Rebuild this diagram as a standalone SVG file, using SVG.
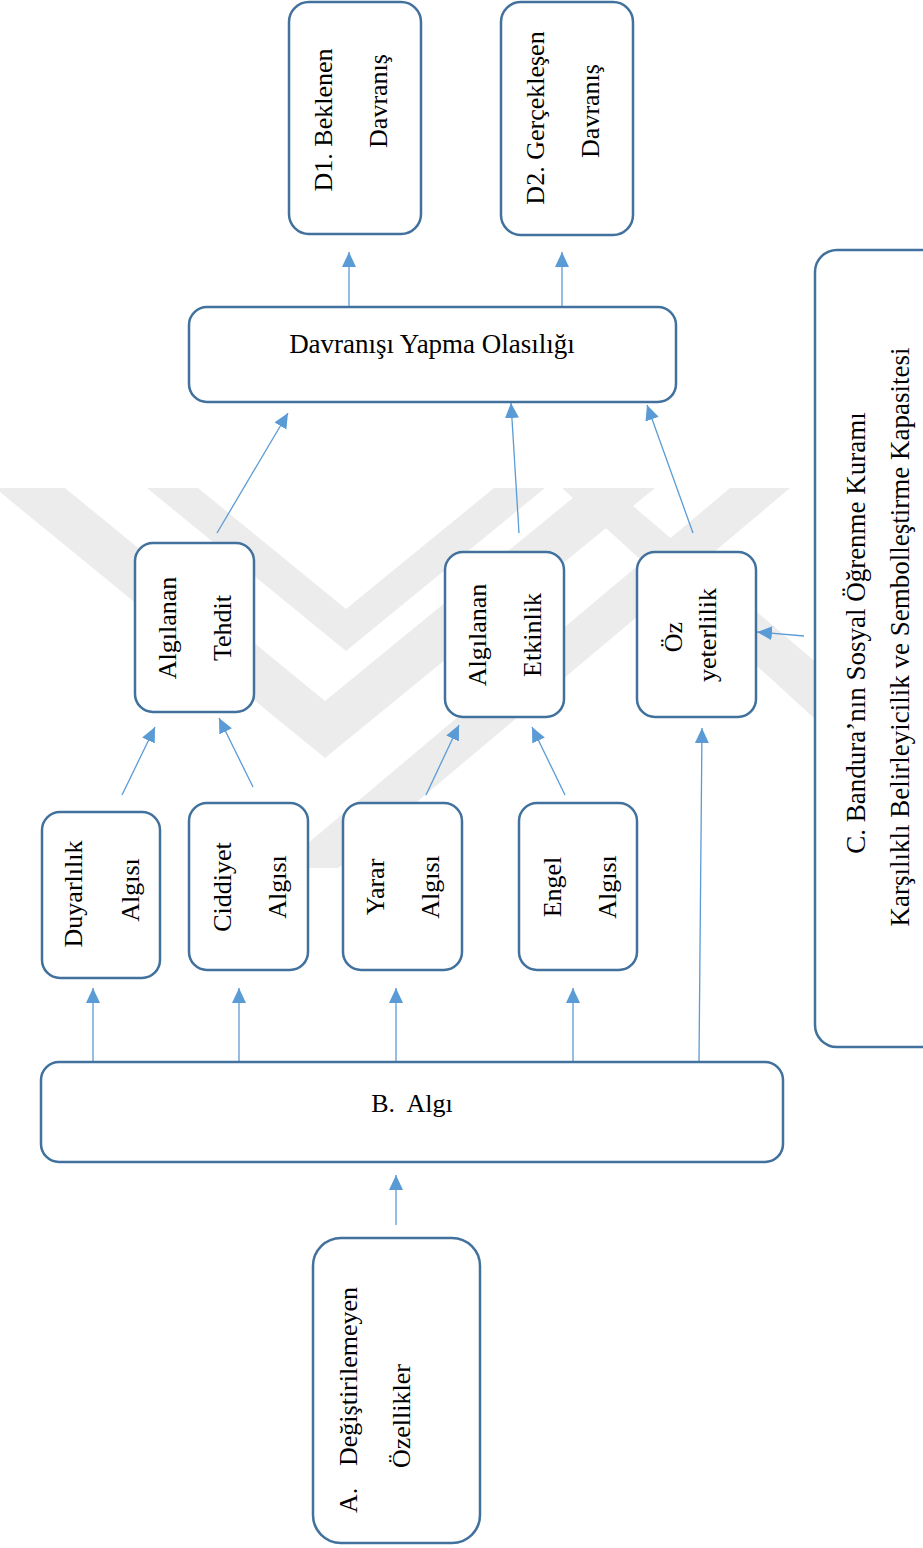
<svg xmlns="http://www.w3.org/2000/svg" width="923" height="1548" viewBox="0 0 923 1548">
<style>
.box{fill:#ffffff;stroke:#41719C;stroke-width:2.5}
.t{font-family:"Liberation Serif","Times New Roman",serif;font-size:26px;fill:#000000}
.c{font-family:"Liberation Serif","Times New Roman",serif;font-size:27px;fill:#000000}
.arr{stroke:#5B9BD5;stroke-width:1.3;fill:none;marker-end:url(#ah)}
.wm{fill:#ececec}
</style>
<defs>
<marker id="ah" markerUnits="userSpaceOnUse" markerWidth="16" markerHeight="16" refX="15" refY="7" orient="auto">
<path d="M0,0 L15,7 L0,14 z" fill="#5B9BD5"/>
</marker>
<clipPath id="wmclip"><rect x="0" y="488" width="815" height="380"/></clipPath>
</defs>
<rect x="0" y="0" width="923" height="1548" fill="#ffffff"/>
<g id="watermark" clip-path="url(#wmclip)">
<polygon class="wm" points="147,488 198,488 346,609 494,488 545,488 346,651"/>
<polygon class="wm" points="-5,488 65,488 325,701 585,488 655,488 325,758"/>
<polygon class="wm" points="730,488 790,488 336,870 276,870"/>
<polygon class="wm" points="562,488 612,488 860,700 860,760"/>
</g>
<g id="connectors">
<line class="arr" x1="349" y1="307" x2="349" y2="252"/>
<line class="arr" x1="562" y1="307" x2="562" y2="252"/>
<line class="arr" x1="217" y1="533" x2="288" y2="413"/>
<line class="arr" x1="519" y1="533" x2="511" y2="403"/>
<line class="arr" x1="693" y1="533" x2="647" y2="405"/>
<line class="arr" x1="804" y1="636" x2="757" y2="632"/>
<line class="arr" x1="122" y1="795" x2="155" y2="727"/>
<line class="arr" x1="253" y1="787" x2="219" y2="718"/>
<line class="arr" x1="426" y1="795" x2="459" y2="725"/>
<line class="arr" x1="565" y1="795" x2="532" y2="727"/>
<line class="arr" x1="93" y1="1062" x2="93" y2="988"/>
<line class="arr" x1="239" y1="1062" x2="239" y2="988"/>
<line class="arr" x1="396" y1="1062" x2="396" y2="988"/>
<line class="arr" x1="573" y1="1062" x2="573" y2="988"/>
<line class="arr" x1="699" y1="1062" x2="702" y2="728"/>
<line class="arr" x1="396" y1="1225" x2="396" y2="1175"/>
</g>
<g id="d1">
<rect class="box" x="289" y="2" width="132" height="232" rx="20"/>
<text class="t" transform="translate(323,120) rotate(-90)" text-anchor="middle" dominant-baseline="central">D1. Beklenen</text>
<text class="t" transform="translate(378,101) rotate(-90)" text-anchor="middle" dominant-baseline="central">Davranış</text>
</g>
<g id="d2">
<rect class="box" x="501" y="2" width="132" height="233" rx="20"/>
<text class="t" transform="translate(535,118) rotate(-90)" text-anchor="middle" dominant-baseline="central">D2. Gerçekleşen</text>
<text class="t" transform="translate(590,111) rotate(-90)" text-anchor="middle" dominant-baseline="central">Davranış</text>
</g>
<g id="davranis">
<rect class="box" x="189" y="307" width="487" height="95" rx="18"/>
<text class="t" x="432" y="353" text-anchor="middle" style="font-size:27px">Davranışı Yapma Olasılığı</text>
</g>
<g id="tehdit">
<rect class="box" x="135" y="543" width="119" height="169" rx="18"/>
<text class="t" transform="translate(167,628) rotate(-90)" text-anchor="middle" dominant-baseline="central">Algılanan</text>
<text class="t" transform="translate(222,628) rotate(-90)" text-anchor="middle" dominant-baseline="central">Tehdit</text>
</g>
<g id="etkinlik">
<rect class="box" x="445" y="552" width="119" height="165" rx="18"/>
<text class="t" transform="translate(477,635) rotate(-90)" text-anchor="middle" dominant-baseline="central">Algılanan</text>
<text class="t" transform="translate(532,635) rotate(-90)" text-anchor="middle" dominant-baseline="central">Etkinlik</text>
</g>
<g id="oz">
<rect class="box" x="637" y="552" width="119" height="165" rx="18"/>
<text class="t" transform="translate(673,637) rotate(-90)" text-anchor="middle" dominant-baseline="central">Öz</text>
<text class="t" transform="translate(707,635) rotate(-90)" text-anchor="middle" dominant-baseline="central">yeterlilik</text>
</g>
<g id="c-bandura">
<rect class="box" x="815" y="250" width="130" height="797" rx="22"/>
<text class="c" transform="translate(856,633) rotate(-90)" text-anchor="middle" dominant-baseline="central">C. Bandura’nın Sosyal Öğrenme Kuramı</text>
<text class="c" transform="translate(900,637) rotate(-90)" text-anchor="middle" dominant-baseline="central">Karşılıklı Belirleyicilik ve Sembolleştirme Kapasitesi</text>
</g>
<g id="duyarlilik">
<rect class="box" x="42" y="812" width="118" height="166" rx="18"/>
<text class="t" transform="translate(73,894) rotate(-90)" text-anchor="middle" dominant-baseline="central">Duyarlılık</text>
<text class="t" transform="translate(130,890) rotate(-90)" text-anchor="middle" dominant-baseline="central">Algısı</text>
</g>
<g id="ciddiyet">
<rect class="box" x="189" y="803" width="119" height="167" rx="18"/>
<text class="t" transform="translate(222,887) rotate(-90)" text-anchor="middle" dominant-baseline="central">Ciddiyet</text>
<text class="t" transform="translate(277,887) rotate(-90)" text-anchor="middle" dominant-baseline="central">Algısı</text>
</g>
<g id="yarar">
<rect class="box" x="343" y="803" width="119" height="167" rx="18"/>
<text class="t" transform="translate(375,887) rotate(-90)" text-anchor="middle" dominant-baseline="central">Yarar</text>
<text class="t" transform="translate(430,887) rotate(-90)" text-anchor="middle" dominant-baseline="central">Algısı</text>
</g>
<g id="engel">
<rect class="box" x="519" y="803" width="118" height="167" rx="18"/>
<text class="t" transform="translate(552,887) rotate(-90)" text-anchor="middle" dominant-baseline="central">Engel</text>
<text class="t" transform="translate(607,887) rotate(-90)" text-anchor="middle" dominant-baseline="central">Algısı</text>
</g>
<g id="algi">
<rect class="box" x="41" y="1062" width="742" height="100" rx="18"/>
<text class="t" x="412" y="1112" text-anchor="middle" xml:space="preserve">B.  Algı</text>
</g>
<g id="degistirilemeyen">
<rect class="box" x="313" y="1238" width="167" height="305" rx="28"/>
<text class="t" transform="translate(348,1513) rotate(-90)" dominant-baseline="central">A.</text>
<text class="t" transform="translate(348,1466) rotate(-90)" dominant-baseline="central">Değiştirilemeyen</text>
<text class="t" transform="translate(401,1468) rotate(-90)" dominant-baseline="central">Özellikler</text>
</g>
</svg>
